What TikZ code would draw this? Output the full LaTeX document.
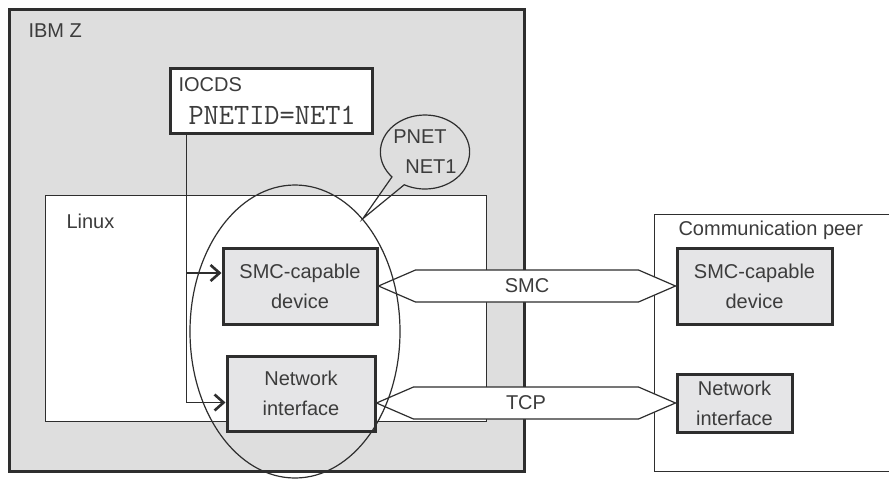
\documentclass[tikz,border=0pt]{standalone}
\usepackage{fontspec}
\setmainfont{Liberation Sans}
\usepackage{xcolor}
\usepackage{tikz}
\usetikzlibrary{
  arrows.meta,
  positioning,
  calc,
  shapes.geometric,
  shapes.callouts
}
\definecolor{zgray}{HTML}{DEDEDE}
\definecolor{devgray}{HTML}{E5E5E7}
\definecolor{ink}{HTML}{2E2E2E}
\definecolor{txt}{HTML}{3C3C3C}

\begin{document}
\begin{tikzpicture}[x=1pt, y=-1pt,
  every node/.style={font=\fontsize{20}{30}\selectfont, text=txt},
  frame/.style={draw=ink, line width=1.2pt, anchor=north west, inner sep=0pt},
  devbox/.style={draw=ink, line width=3pt, fill=devgray, align=center, inner sep=0pt},
  pipe/.style={draw=ink, fill=white, line width=1.2pt},
  feed/.style={ink, line width=1.2pt, -{Straight Barb[length=9pt,width=16pt,line width=2.6pt]}}]
\useasboundingbox (0,0) rectangle (889,480);

% outer systems
\node[frame, fill=zgray, line width=2.6pt, minimum width=515, minimum height=462] (ibmz) at (8,8) {};
\node[anchor=base west] (ibmzlbl) at (25,37) {IBM Z};
\node[frame, fill=white, minimum width=441, minimum height=226] (linux) at (45,195) {};
\node[anchor=base west] (linuxlbl) at (63,228) {Linux};
\node[frame, fill=white, minimum width=250, minimum height=257] (peer) at (654,214) {};
\node[anchor=base west] (peerlbl) at (675,235) {Communication peer};

% IOCDS definition
\node[frame, draw=ink, line width=3pt, fill=white, minimum width=202, minimum height=65] (iocds) at (169,67) {};
\node[anchor=base west] (iocdslbl) at (175,91) {IOCDS};
\node[anchor=base west, font=\ttfamily\fontsize{29.5}{30}\selectfont] (pnetid) at (185,124) {PNETID=NET1};

% devices
\node[devbox, minimum width=154, minimum height=76] (smcA) at (300,286) {SMC-capable\\device};
\node[devbox, minimum width=148, minimum height=75] (netA) at (301,393.5) {Network\\interface};
\node[devbox, minimum width=155, minimum height=76] (smcB) at (754.5,286) {SMC-capable\\device};
\node[devbox, minimum width=115, minimum height=58] (netB) at (734.5,403) {Network\\interface};

% PNETID assignment
\coordinate (tap) at ([xshift=17.5pt]iocds.south west);
\coordinate (smcin) at ([yshift=13pt]smcA.west);
\coordinate (netin) at ([yshift=-9pt]netA.west);
\draw[feed] (tap) |- (netin);
\draw[feed] (tap |- smcin) -- (smcin);

% connections
\draw[pipe] (smcA.east) -- ++(37,-16) -- ($(smcB.west)+(-37,-16)$) -- (smcB.west)
  -- ++(-37,16) -- ($(smcA.east)+(37,16)$) -- cycle;
\node (smclbl) at ($(smcA.east)!0.5!(smcB.west)$) {SMC};
\coordinate (tcpL) at (netA.east |- netB.west);
\draw[pipe] (tcpL) -- ++(37,-16) -- ($(netB.west)+(-37,-16)$) -- (netB.west)
  -- ++(-37,16) -- ($(tcpL)+(37,16)$) -- cycle;
\node (tcplbl) at ($(tcpL)!0.5!(netB.west)$) {TCP};

% physical network
\node[draw=ink, line width=1.2pt, ellipse, minimum width=210, minimum height=293, inner sep=0pt] (pnet) at (295,331.5) {};
\node[ellipse callout, draw=ink, line width=1.2pt, minimum width=84, minimum height=74, inner sep=0pt,
  align=center, callout absolute pointer={(pnet.59)}, callout pointer arc=20] (pnetcall) at (425,152)
  {\hspace*{-10pt}PNET\\\hspace*{12pt}NET1};
\end{tikzpicture}
\end{document}
